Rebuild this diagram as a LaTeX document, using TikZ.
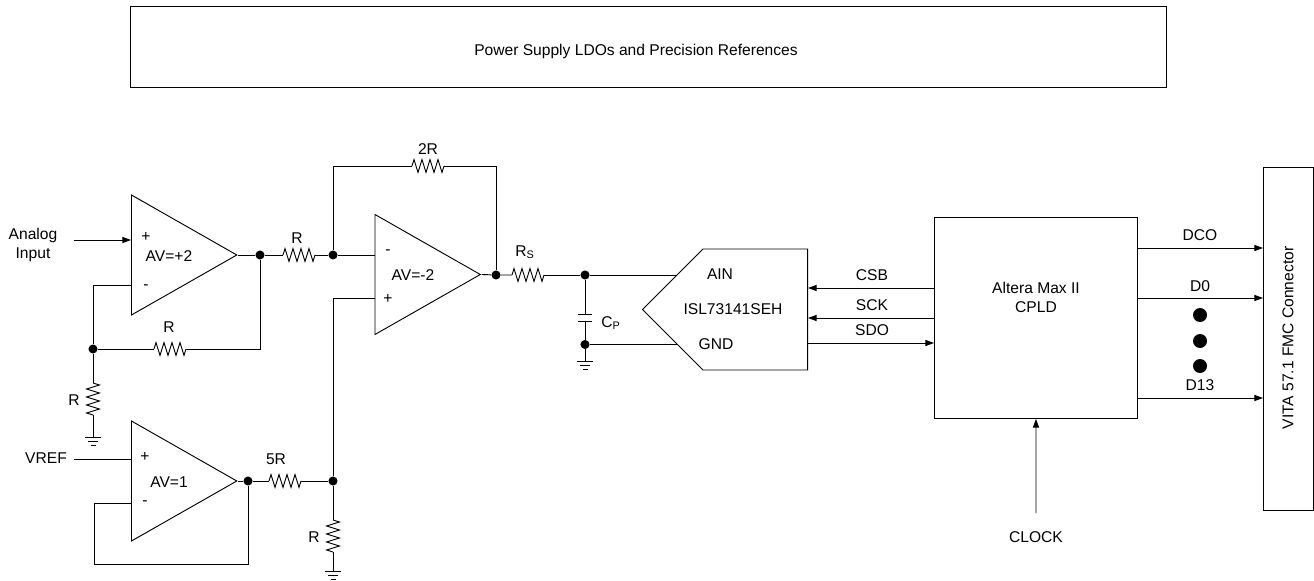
\documentclass[tikz,border=0pt]{standalone}
\usepackage{fontspec}
\setmainfont{Liberation Sans}
\usepackage{tikz}
\usetikzlibrary{arrows.meta,shapes.geometric,shapes.symbols,decorations.pathmorphing}
\tikzstyle{wire} = [line width=0.7pt,color=black]
\tikzstyle{arrow} = [wire,-{Triangle[length=6.5pt,width=4.6pt]}]
\tikzstyle{res} = [wire,decorate,decoration={zigzag,segment length=6pt,amplitude=4.8pt}]
\tikzstyle{dot} = [circle, fill=black, minimum size=6.8pt, inner sep=0pt]
\tikzstyle{bigdot} = [circle, fill=black, minimum size=10.5pt, inner sep=0pt]
\tikzstyle{lbl} = [inner sep=0pt, font=\fontsize{11.7pt}{14.2pt}\selectfont, align=center]
\tikzstyle{block} = [rectangle, draw=black, line width=0.7pt, inner sep=0pt, anchor=north west]
\tikzstyle{opamp} = [isosceles triangle, isosceles triangle stretches, draw=black, line width=0.7pt, inner sep=0pt, anchor=lower side, minimum width=90pt, minimum height=79pt]
\tikzset{gnd/.pic={
  \draw[wire] (-8,0) -- (8,0);
  \draw[wire] (-5,4) -- (5,4);
  \draw[wire] (-2.5,8) -- (2.5,8);
}}
\begin{document}
\begin{tikzpicture}[x=0.75pt,y=-0.75pt]
\useasboundingbox (0,0) rectangle (1314,581);

% Blocks
\node[block, minimum width=777pt, minimum height=60.75pt] (ldo) at (130,6) {};
\node[lbl] (ldotxt) at (636,51) {Power Supply LDOs and Precision References};
\node[block, minimum width=152.25pt, minimum height=150.75pt] (cpld) at (934,217) {};
\node[lbl] (cpldtxt) at (1036,297) {Altera Max II\\CPLD};
\node[block, minimum width=37.5pt, minimum height=257.25pt] (fmc) at (1263,167) {};
\node[lbl, rotate=90] (fmctxt) at (1288,338) {VITA 57.1 FMC Connector};
\node[signal, signal to=west, signal from=nowhere, signal pointer angle=90, draw=black, line width=0.7pt, inner sep=0pt, anchor=east, minimum width=123.75pt, minimum height=90.75pt] (adc) at (808,309.5) {};
\node[lbl] (adctxt) at (733,309) {ISL73141SEH};
\node[lbl] (aintxt) at (720,274) {AIN};
\node[lbl] (gndtxt) at (716,344) {GND};

% Op amps
\node[opamp] (amp1) at (131,255) {};
\node[opamp] (amp2) at (374.5,274.5) {};
\node[opamp] (amp3) at (131,481) {};
\node[lbl] (av1) at (169,256) {AV=+2};
\node[lbl] (av2) at (413,275) {AV=-2};
\node[lbl] (av3) at (169,482) {AV=1};
\node[lbl] (amp1p) at (146,237) {+};
\node[lbl] (amp1m) at (146,287) {-};
\node[lbl] (amp2m) at (388,252) {-};
\node[lbl] (amp2p) at (388,299) {+};
\node[lbl] (amp3p) at (145,457) {+};
\node[lbl] (amp3m) at (145,503) {-};

% Junctions
\node[dot] (j1) at (260,255) {};
\node[dot] (j2) at (333,255) {};
\node[dot] (j3) at (93,349) {};
\node[dot] (j4) at (248,481) {};
\node[dot] (j5) at (333,481) {};
\node[dot] (j6) at (496,275) {};
\node[dot] (j7) at (585,275) {};
\node[dot] (j8) at (585,344.5) {};

% Free ends
\coordinate (ain1) at (74,240);
\coordinate (in1p) at (131,240);
\coordinate (in1m) at (131,285);
\coordinate (in2m) at (374.5,255);
\coordinate (in2p) at (374.5,298);
\coordinate (ain3) at (74,459);
\coordinate (in3p) at (131,459);
\coordinate (in3m) at (131,503);
\coordinate (adcain) at (677,275);
\coordinate (adcgnd) at (678,344.5);
\coordinate (g1) at (93,437);
\coordinate (g2) at (333,571);
\coordinate (g3) at (585,361);
\coordinate (capa) at (585,314);
\coordinate (capb) at (585,321);
\coordinate (clk) at (1036,513);

% Resistors
\coordinate (r1a) at (283,255);
\coordinate (r1b) at (315,255);
\coordinate (r2a) at (154,349);
\coordinate (r2b) at (186,349);
\coordinate (r3a) at (93,383);
\coordinate (r3b) at (93,415);
\coordinate (r4a) at (269,481);
\coordinate (r4b) at (301,481);
\coordinate (r5a) at (333,520);
\coordinate (r5b) at (333,552);
\coordinate (r6a) at (412,166);
\coordinate (r6b) at (444,166);
\coordinate (r7a) at (512,275);
\coordinate (r7b) at (544,275);
\foreach \n in {1,...,7} {
  \draw[res] (r\n a) -- (r\n b);
}

% Wires
\draw[arrow] (ain1) -- (in1p);
\draw[wire] (amp1.apex) -- (j1) -- (r1a);
\draw[wire] (r1b) -- (j2) -- (in2m);
\draw[wire] (in1m) -| (j3);
\draw[wire] (j3) -- (r2a);
\draw[wire] (r2b) -| (j1);
\draw[wire] (j3) -- (r3a);
\draw[wire] (r3b) -- (g1);
\draw[wire] (ain3) -- (in3p);
\draw[wire] (amp3.apex) -- (j4) -- (r4a);
\draw[wire] (r4b) -- (j5);
\draw[wire] (j4) -- (248,564) -| (94,503) -- (in3m);
\draw[wire] (j5) -- (r5a);
\draw[wire] (r5b) -- (g2);
\draw[wire] (j5) |- (in2p);
\draw[wire] (j2) |- (r6a);
\draw[wire] (r6b) -| (j6);
\draw[wire] (amp2.apex) -- (j6) -- (r7a);
\draw[wire] (r7b) -- (j7) -- (adcain);
\draw[wire] (j7) -- (capa);
\draw[wire] (capb) -- (j8) -- (g3);
\draw[wire] (j8) -- (adcgnd);
\draw[wire] ([xshift=-5.6pt]capa) -- ([xshift=5.6pt]capa);
\draw[wire] ([xshift=-5.6pt]capb) -- ([xshift=5.6pt]capb);
\pic at (g1) {gnd};
\pic at (g2) {gnd};
\pic at (g3) {gnd};

% Digital lines
\coordinate (csbo) at (934,288);
\coordinate (csbi) at (808,288);
\coordinate (scko) at (934,318);
\coordinate (scki) at (808,318);
\coordinate (sdoo) at (808,343);
\coordinate (sdoi) at (934,343);
\draw[arrow] (csbo) -- (csbi);
\draw[arrow] (scko) -- (scki);
\draw[arrow] (sdoo) -- (sdoi);
\coordinate (dcoo) at (1137,248);
\coordinate (dcoi) at (1263,248);
\coordinate (d0o) at (1137,298);
\coordinate (d0i) at (1263,298);
\coordinate (d13o) at (1137,398);
\coordinate (d13i) at (1263,398);
\draw[arrow] (dcoo) -- (dcoi);
\draw[arrow] (d0o) -- (d0i);
\draw[arrow] (d13o) -- (d13i);
\draw[arrow] (clk) -- (cpld.south);
\node[bigdot] (e1) at (1200,315) {};
\node[bigdot] (e2) at (1200,341) {};
\node[bigdot] (e3) at (1200,366) {};

% Labels
\node[lbl] (ainlbl) at (33,244.5) {Analog\\Input};
\node[lbl] (vreflbl) at (46,458) {VREF};
\node[lbl] (r1lbl) at (297,238) {R};
\node[lbl] (r2lbl) at (169,327) {R};
\node[lbl] (r3lbl) at (74,400) {R};
\node[lbl] (r4lbl) at (276,459) {5R};
\node[lbl] (r5lbl) at (314,537) {R};
\node[lbl] (r6lbl) at (428,149) {2R};
\node[lbl] (r7lbl) at (525,252) {R\textsubscript{S}};
\node[lbl] (cplbl) at (611,323) {C\textsubscript{P}};
\node[lbl] (csblbl) at (872,275) {CSB};
\node[lbl] (scklbl) at (872,305) {SCK};
\node[lbl] (sdolbl) at (872,330) {SDO};
\node[lbl] (dcolbl) at (1200,235) {DCO};
\node[lbl] (d0lbl) at (1200,286) {D0};
\node[lbl] (d13lbl) at (1200,385) {D13};
\node[lbl] (clklbl) at (1036,537) {CLOCK};
\end{tikzpicture}
\end{document}
